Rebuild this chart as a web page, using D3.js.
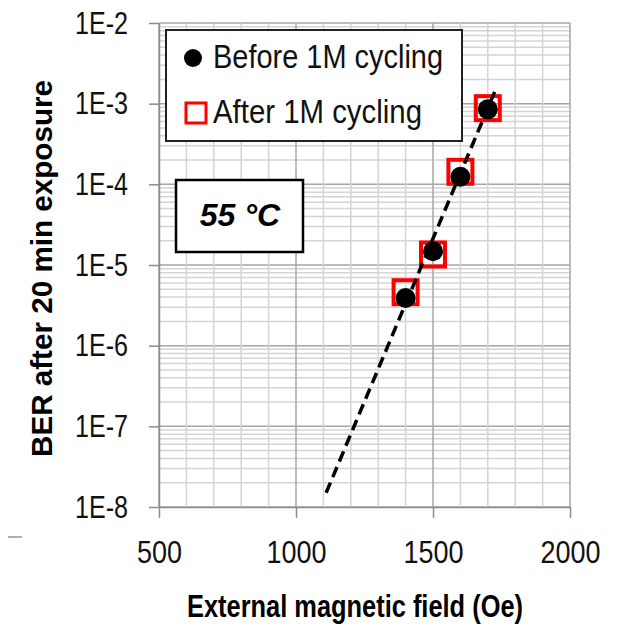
<!DOCTYPE html>
<html>
<head>
<meta charset="utf-8">
<script src="https://cdn.jsdelivr.net/npm/d3@7"></script>
<style>
  body { margin: 0; background: #fff; }
  svg { display: block; }
</style>
</head>
<body>
<div id="chart"></div>
<script>
// field values (Oe) and BER after 20 min
var fields    = [1400, 1500, 1600, 1700];
var berBefore = [3.9e-6, 1.48e-5, 1.24e-4, 8.5e-4];
var berAfter  = [4.6e-6, 1.35e-5, 1.43e-4, 8.8e-4];

// dashed fit line end points
var fitX = [1110, 1725];
var fitY = [1.5e-8, 1.4e-3];

var xTicks  = [500, 1000, 1500, 2000];
var yTicks  = [1e-8, 1e-7, 1e-6, 1e-5, 1e-4, 1e-3, 1e-2];
var yLabels = ['1E-8', '1E-7', '1E-6', '1E-5', '1E-4', '1E-3', '1E-2'];
var legendNames = ['Before 1M cycling', 'After 1M cycling'];

var width = 620, height = 629;
var font = '"Liberation Sans", Arial, sans-serif';

var x = d3.scaleLinear().domain([500, 2000]).range([159, 570]);
var y = d3.scaleLog().domain([1e-8, 1e-2]).range([507, 23]);

var svg = d3.select('#chart').append('svg')
    .attr('width', width)
    .attr('height', height);

// grid
var xMinor = d3.range(500, 2001, 100);
svg.append('g').selectAll('line').data(y.ticks())
  .enter().append('line')
    .attr('x1', x(500)).attr('x2', x(2000))
    .attr('y1', function(d) { return y(d); })
    .attr('y2', function(d) { return y(d); })
    .style('stroke', function(d) { return yTicks.indexOf(d) >= 0 ? '#a6a6a6' : '#d4d4d4'; })
    .style('stroke-width', 1.5);

svg.append('g').selectAll('line').data(xMinor)
  .enter().append('line')
    .attr('y1', y(1e-8)).attr('y2', y(1e-2))
    .attr('x1', function(d) { return x(d); })
    .attr('x2', function(d) { return x(d); })
    .style('stroke', function(d) { return xTicks.indexOf(d) >= 0 ? '#a6a6a6' : '#d4d4d4'; })
    .style('stroke-width', 1.5);

// axes
var yAxis = svg.append('g')
    .attr('transform', 'translate(' + x(500) + ',0)')
    .call(d3.axisLeft(y).tickValues(yTicks)
        .tickFormat(function(d, i) { return yLabels[i]; })
        .tickSize(10).tickSizeOuter(0).tickPadding(21));

var xAxis = svg.append('g')
    .attr('transform', 'translate(0,' + y(1e-8) + ')')
    .call(d3.axisBottom(x).tickValues(xTicks)
        .tickFormat(d3.format('d'))
        .tickSize(11).tickSizeOuter(0).tickPadding(22));

[xAxis, yAxis].forEach(function(a) {
    a.select('.domain').style('stroke', '#8c8c8c').style('stroke-width', 1.5);
    a.selectAll('.tick line').style('stroke', '#8c8c8c').style('stroke-width', 1.5);
    a.selectAll('.tick text')
        .attr('textLength', function() { return this.textContent.length * 15; })
        .attr('lengthAdjust', 'spacingAndGlyphs')
        .style('font-family', font)
        .style('font-size', '32px')
        .style('fill', '#111');
});
yAxis.selectAll('.tick text').attr('textLength', 53);

// markers
svg.append('g').selectAll('rect').data(fields)
  .enter().append('rect')
    .attr('x', function(d) { return x(d) - 12; })
    .attr('y', function(d, i) { return y(berAfter[i]) - 12; })
    .attr('width', 24).attr('height', 24)
    .style('fill', 'none')
    .style('stroke', '#ff0000')
    .style('stroke-width', 4);

svg.append('g').selectAll('circle').data(fields)
  .enter().append('circle')
    .attr('cx', function(d) { return x(d); })
    .attr('cy', function(d, i) { return y(berBefore[i]); })
    .attr('r', 10)
    .style('fill', '#000');

// fit line
svg.append('path')
    .datum(fitX)
    .attr('d', d3.line()
        .x(function(d) { return x(d); })
        .y(function(d, i) { return y(fitY[i]); }))
    .style('fill', 'none')
    .style('stroke', '#000')
    .style('stroke-width', 3.5)
    .style('stroke-dasharray', '11,6');

// legend
var legend = svg.append('g');
legend.append('rect')
    .attr('x', 166).attr('y', 30).attr('width', 296).attr('height', 111)
    .style('fill', '#fff').style('stroke', '#222').style('stroke-width', 2);
legend.append('circle')
    .attr('cx', 193).attr('cy', 58).attr('r', 9)
    .style('fill', '#000');
legend.append('rect')
    .attr('x', 186).attr('y', 103).attr('width', 20).attr('height', 20)
    .style('fill', 'none').style('stroke', '#ff0000').style('stroke-width', 3);
var legendWidths = [230, 209];
legend.selectAll('text').data(legendNames)
  .enter().append('text')
    .attr('x', 213)
    .attr('y', function(d, i) { return 68 + i * 55; })
    .attr('textLength', function(d, i) { return legendWidths[i]; })
    .attr('lengthAdjust', 'spacingAndGlyphs')
    .style('font-family', font)
    .style('font-size', '33px')
    .style('fill', '#111')
    .text(function(d) { return d; });

// temperature box
svg.append('rect')
    .attr('x', 176).attr('y', 180).attr('width', 127).attr('height', 72)
    .style('fill', '#fff').style('stroke', '#000').style('stroke-width', 2.5);
svg.append('text')
    .attr('x', 240).attr('y', 226)
    .attr('text-anchor', 'middle')
    .style('font-family', font)
    .style('font-weight', 'bold')
    .style('font-style', 'italic')
    .style('font-size', '32px')
    .text('55 °C');

// axis titles
svg.append('text')
    .attr('x', 187).attr('y', 617)
    .attr('textLength', 336)
    .attr('lengthAdjust', 'spacingAndGlyphs')
    .style('font-family', font)
    .style('font-weight', 'bold')
    .style('font-size', '31px')
    .text('External magnetic field (Oe)');

svg.append('text')
    .attr('transform', 'translate(52,457) rotate(-90)')
    .attr('textLength', 377)
    .attr('lengthAdjust', 'spacingAndGlyphs')
    .style('font-family', font)
    .style('font-weight', 'bold')
    .style('font-size', '29px')
    .text('BER after 20 min exposure');

// small stray mark at bottom left
svg.append('line')
    .attr('x1', 8).attr('x2', 22).attr('y1', 537).attr('y2', 537)
    .style('stroke', '#b0b0b0').style('stroke-width', 2);
</script>
</body>
</html>
